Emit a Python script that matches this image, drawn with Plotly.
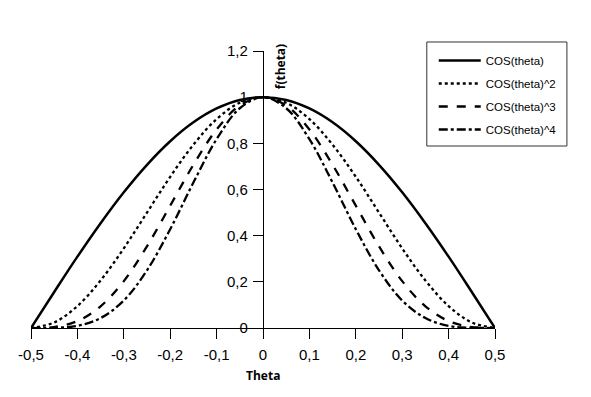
import plotly.graph_objects as go

theta = [-0.5, -0.45, -0.4, -0.35, -0.3, -0.25, -0.2, -0.15, -0.1, -0.05, 0.0,
         0.05, 0.1, 0.15, 0.2, 0.25, 0.3, 0.35, 0.4, 0.45, 0.5]

cos1 = [0.0, 0.156, 0.309, 0.454, 0.588, 0.707, 0.809, 0.891, 0.951, 0.988, 1.0,
        0.988, 0.951, 0.891, 0.809, 0.707, 0.588, 0.454, 0.309, 0.156, 0.0]
cos2 = [0.0, 0.024, 0.095, 0.206, 0.345, 0.500, 0.655, 0.794, 0.905, 0.976, 1.0,
        0.976, 0.905, 0.794, 0.655, 0.500, 0.345, 0.206, 0.095, 0.024, 0.0]
cos3 = [0.0, 0.004, 0.030, 0.094, 0.203, 0.354, 0.530, 0.707, 0.860, 0.964, 1.0,
        0.964, 0.860, 0.707, 0.530, 0.354, 0.203, 0.094, 0.030, 0.004, 0.0]
cos4 = [0.0, 0.001, 0.009, 0.043, 0.119, 0.250, 0.428, 0.630, 0.818, 0.952, 1.0,
        0.952, 0.818, 0.630, 0.428, 0.250, 0.119, 0.043, 0.009, 0.001, 0.0]

names = ["COS(theta)", "COS(theta)^2", "COS(theta)^3", "COS(theta)^4"]
series = [cos1, cos2, cos3, cos4]
dashes = ["solid", "dot", "dash", "dashdot"]
widths = [2.5, 2.3, 2.3, 2.3]

x_ticks = [-0.5, -0.4, -0.3, -0.2, -0.1, 0, 0.1, 0.2, 0.3, 0.4, 0.5]
x_labels = ["-0,5", "-0,4", "-0,3", "-0,2", "-0,1", "0", "0,1", "0,2", "0,3", "0,4", "0,5"]
y_ticks = [0, 0.2, 0.4, 0.6, 0.8, 1, 1.2]
y_labels = ["0", "0,2", "0,4", "0,6", "0,8", "1", "1,2"]

fig = go.Figure()
for i, (n, s, d, w) in enumerate(zip(names, series, dashes, widths)):
    fig.add_trace(go.Scatter(
        x=theta, y=s, mode="lines", name=n, legendgroup=f"g{i}",
        line=dict(color="black", width=w, dash=d, shape="spline", smoothing=1.0),
    ))

fig.update_layout(
    width=591, height=397,
    margin=dict(l=31, r=96, t=51, b=69),
    paper_bgcolor="white", plot_bgcolor="white",
    font=dict(family="Liberation Sans, Arial", size=15, color="black"),
    showlegend=True,
    legend=dict(
        x=0.868, y=1.018, xanchor="left", yanchor="top",
        borderwidth=0, bgcolor="rgba(0,0,0,0)",
        font=dict(family="Liberation Sans, Arial", size=11.5, color="black"),
        traceorder="grouped", tracegroupgap=4, itemwidth=42,
    ),
    shapes=[
        dict(type="rect", xref="paper", yref="paper",
             x0=0.853, x1=1.155, y0=0.657, y1=1.0325,
             line=dict(color="#333", width=1), fillcolor="rgba(0,0,0,0)", layer="below"),
    ],
    xaxis=dict(
        range=[-0.5, 0.5], tickvals=x_ticks, ticktext=x_labels,
        showgrid=False, zeroline=False,
        showline=True, linecolor="black", linewidth=1.2,
        ticks="outside", ticklen=10, tickwidth=1.2, tickcolor="black",
        tickfont=dict(size=15), ticklabelstandoff=3,
    ),
    yaxis=dict(
        range=[0, 1.2], tickvals=y_ticks, ticktext=y_labels,
        anchor="free", position=0.5,
        showgrid=False, zeroline=False,
        showline=True, linecolor="black", linewidth=1.2,
        ticks="outside", ticklen=10, tickwidth=1.2, tickcolor="black",
        tickfont=dict(size=15), ticklabelstandoff=2,
    ),
    annotations=[
        dict(text="<b>f(theta)</b>", x=0.537, y=0.942, xref="paper", yref="paper",
             textangle=-90, showarrow=False, xanchor="center", yanchor="middle",
             font=dict(family="Open Sans", size=12, color="black")),
        dict(text="<b>Theta</b>", x=0.5, y=-0.17, xref="paper", yref="paper",
             showarrow=False, xanchor="center", yanchor="middle",
             font=dict(family="Open Sans", size=12, color="black")),
    ],
)

fig.write_html("out.html", post_script="document.body.style.margin='0';",
               config={"displayModeBar": False})
